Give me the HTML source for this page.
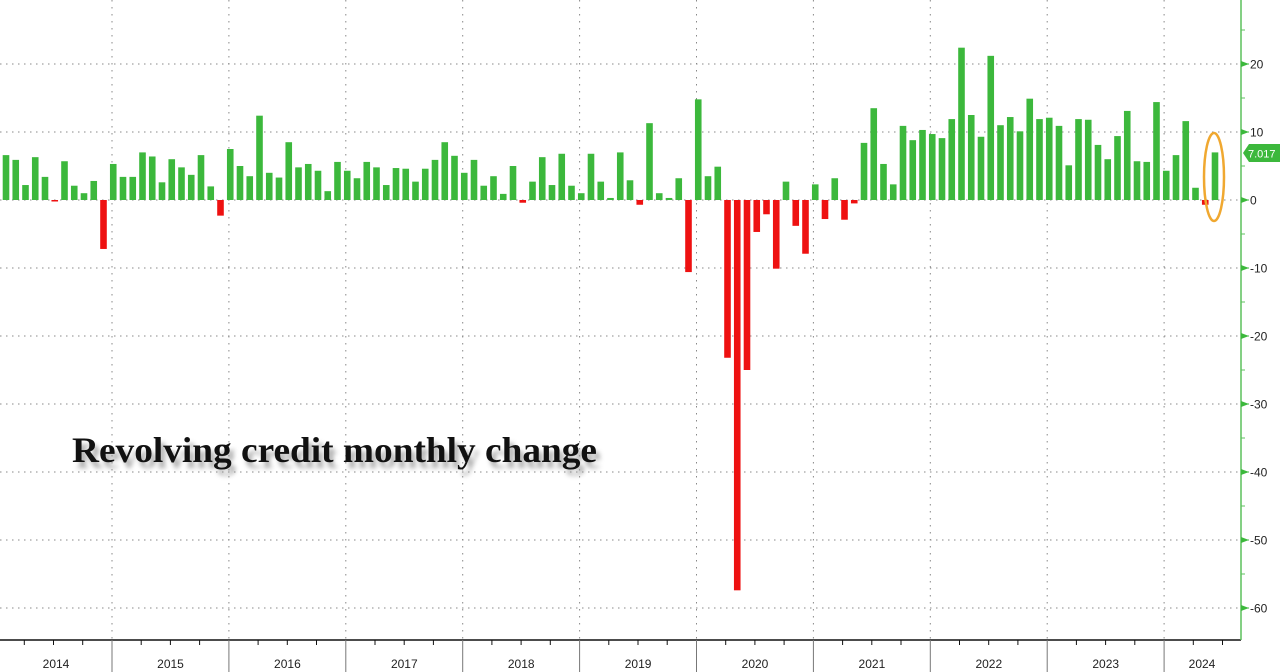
<!DOCTYPE html>
<html><head><meta charset="utf-8">
<style>
html,body{margin:0;padding:0;background:#fff;width:1280px;height:672px;overflow:hidden}
svg{display:block}
.t{font-family:"Liberation Sans","DejaVu Sans",sans-serif;font-size:12px;fill:#222}
</style></head>
<body>
<svg id="c" width="1280" height="672" xmlns="http://www.w3.org/2000/svg">
<g id="grid"></g>
<g id="bars"></g>
<g id="axis"></g>
<text x="72" y="462" font-family="Liberation Serif, serif" font-weight="bold" font-size="36" textLength="525" lengthAdjust="spacingAndGlyphs" fill="#999" opacity="0.8" transform="translate(4,6)" style="filter:blur(2.5px)">Revolving credit monthly change</text>
<text x="72" y="462" font-family="Liberation Serif, serif" font-weight="bold" font-size="36" textLength="525" lengthAdjust="spacingAndGlyphs" fill="#111">Revolving credit monthly change</text>
<ellipse cx="1214" cy="177" rx="10" ry="44" fill="none" stroke="#f0a830" stroke-width="2.5"/>
<polygon points="1243,153 1249,144 1280,144 1280,162 1249,162" fill="#3cb83c"/>
<text x="1248" y="157.5" font-family="Liberation Sans, sans-serif" font-size="11" fill="#fff">7.017</text>
</svg>
<script>
var v=[6.6,5.9,2.2,6.3,3.4,-0.2,5.7,2.1,1.0,2.8,-7.2,5.3,3.4,3.4,7.0,6.4,2.6,6.0,4.8,3.7,6.6,2.0,-2.3,7.5,5.0,3.5,12.4,4.0,3.3,8.5,4.8,5.3,4.3,1.3,5.6,4.3,3.2,5.6,4.8,2.2,4.7,4.6,2.7,
4.6,5.9,8.5,6.5,4.0,5.9,2.1,3.5,0.9,5.0,-0.4,2.7,6.3,2.2,6.8,2.1,1.0,6.8,2.7,0.3,7.0,2.9,-0.7,11.3,1.0,0.3,3.2,-10.6,14.8,3.5,4.9,-23.2,-57.4,-25,-4.7,-2.1,-10.1,2.7,-3.8,-7.9,2.3,-2.8,3.2,
-2.9,-0.5,8.4,13.5,5.3,2.3,10.9,8.8,10.3,9.7,9.1,11.9,22.4,12.5,9.3,21.2,11.0,12.2,10.1,14.9,11.9,12.1,10.9,5.1,11.9,11.8,8.1,6.0,
9.4,13.1,5.7,5.6,14.4,4.3,6.6,11.6,1.8,-0.7,7.0];
var NS="http://www.w3.org/2000/svg";
function el(p,n,a,txt){var e=document.createElementNS(NS,n);for(var k in a)e.setAttribute(k,a[k]);if(txt!=null)e.textContent=txt;document.getElementById(p).appendChild(e);return e;}
var z=200,s=6.8;
for(var y=20;y>=-60;y-=10){var py=z-y*s;el('grid','line',{x1:0,x2:1241,y1:py,y2:py,stroke:'#888','stroke-width':1,'stroke-dasharray':'1.5 4.5'});}
var yrs=[];for(var k=0;k<10;k++){var bx=112+116.9*k;yrs.push(bx);el('grid','line',{x1:bx,x2:bx,y1:0,y2:640,stroke:'#888','stroke-width':1,'stroke-dasharray':'1.5 5.5'});}
for(var i=0;i<v.length;i++){var cx=6+i*9.75,h=v[i]*s;
 if(v[i]>=0)el('bars','rect',{x:cx-3.3,y:z-h,width:6.6,height:h,fill:'#3cb83c'});
 else el('bars','rect',{x:cx-3.3,y:z,width:6.6,height:Math.max(-h,1.5),fill:'#ee1111'});}
el('axis','line',{x1:0,x2:1241,y1:640,y2:640,stroke:'#111','stroke-width':1.5});
for(var k=-1;k<10;k++){var b=112+116.9*k;for(var q=1;q<4;q++){var tx=b+q*29.2;if(tx>1240)continue;el('axis','line',{x1:tx,x2:tx,y1:640,y2:645,stroke:'#111','stroke-width':1});}}
for(var k=0;k<10;k++)el('axis','line',{x1:yrs[k],x2:yrs[k],y1:640,y2:672,stroke:'#777','stroke-width':1});
var labels=['2014','2015','2016','2017','2018','2019','2020','2021','2022','2023','2024'];
for(var k=0;k<11;k++){var cx=k==0?56:(k==10?1202:(yrs[k-1]+58.5));el('axis','text',{x:cx,y:668,'text-anchor':'middle','class':'t'},labels[k]);}
el('axis','line',{x1:1241,x2:1241,y1:0,y2:640,stroke:'#5cc05c','stroke-width':1.5});
for(var y=25;y>=-65;y-=5){var py=z-y*s;if(py<0||py>636)continue;
 if(y%10==0){el('axis','polygon',{points:(1241)+','+(py-3)+' '+(1249)+','+py+' '+(1241)+','+(py+3),fill:'#3cb83c'});el('axis','line',{x1:1241,x2:1249,y1:py,y2:py,stroke:'#3cb83c'});
  el('axis','text',{x:1250,y:py+4.5,'class':'t'},String(y));}
 else el('axis','line',{x1:1241,x2:1245,y1:py,y2:py,stroke:'#5cc05c'});}
</script>
</body></html>
